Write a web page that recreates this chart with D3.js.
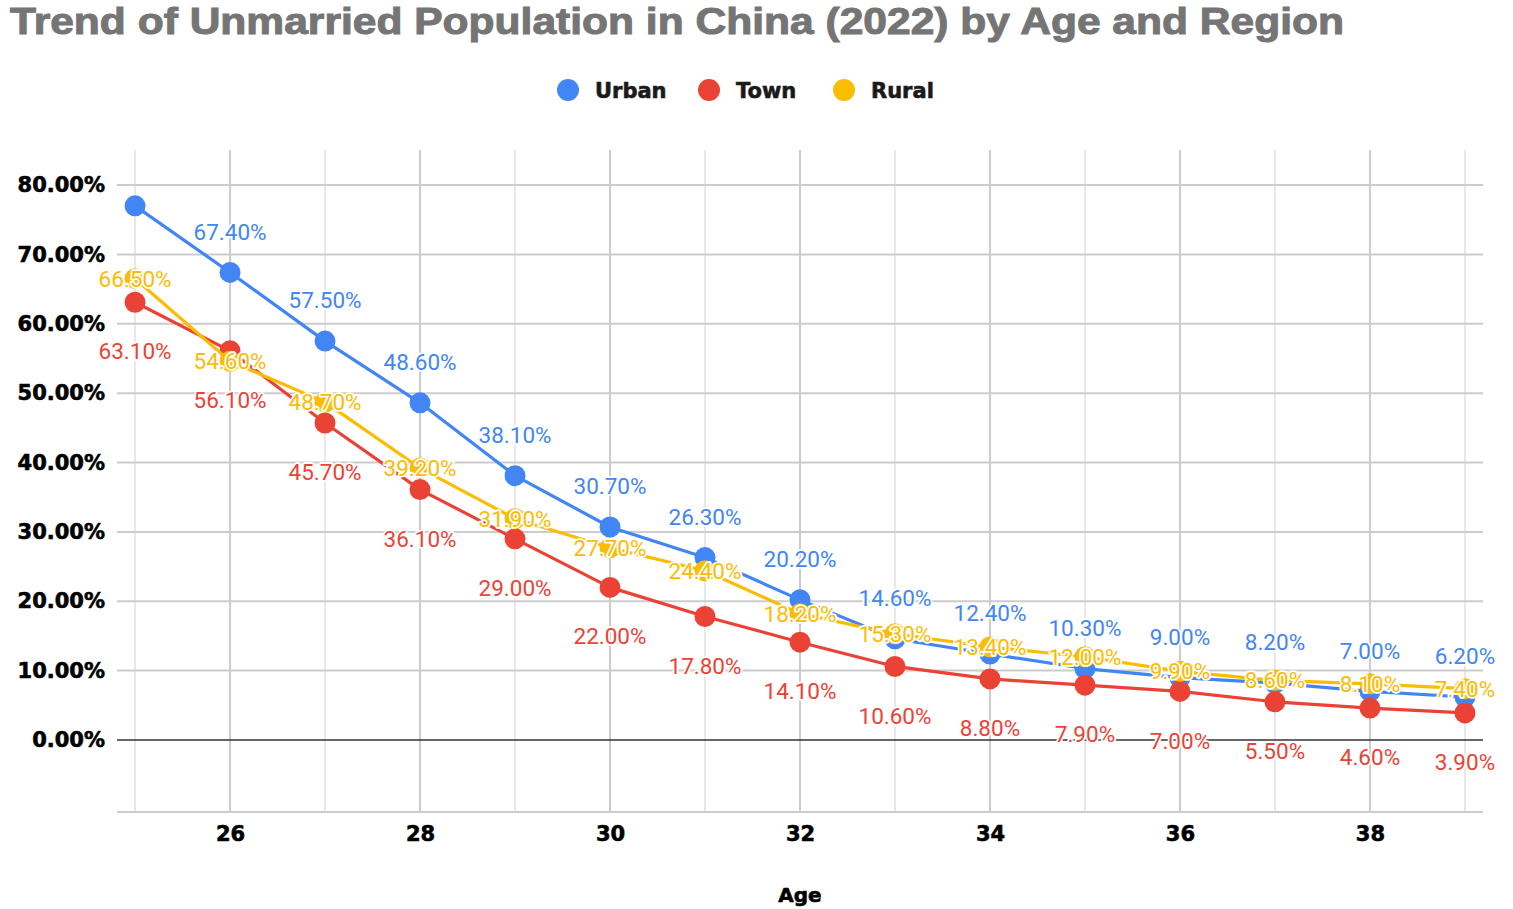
<!DOCTYPE html>
<html><head><meta charset="utf-8">
<script src="https://cdn.jsdelivr.net/npm/d3@7"></script>
<style>body{margin:0;background:#fff;} svg{display:block;}</style>
</head><body>
<svg id="chart" width="1513" height="909"></svg>
<script>
const ages = [25,26,27,28,29,30,31,32,33,34,35,36,37,38,39];
const urban = [77.0,67.4,57.5,48.6,38.1,30.7,26.3,20.2,14.6,12.4,10.3,9.0,8.2,7.0,6.2];
const town  = [63.1,56.1,45.7,36.1,29.0,22.0,17.8,14.1,10.6,8.8,7.9,7.0,5.5,4.6,3.9];
const rural = [66.5,54.6,48.7,39.2,31.9,27.7,24.4,18.2,15.3,13.4,12.0,9.9,8.6,8.1,7.4];
const yTicks = [0,10,20,30,40,50,60,70,80];
const xTicks = [26,28,30,32,34,36,38];
const seriesNames = ["Urban","Town","Rural"];
const colors = ["#4285F4","#EA4335","#FBBC04"];

const series = [
  {name:seriesNames[0], values:urban, color:colors[0], pos:"above", hideFirst:true},
  {name:seriesNames[1], values:town,  color:colors[1], pos:"below"},
  {name:seriesNames[2], values:rural, color:colors[2], pos:"center"}
];

const svg = d3.select("#chart");
const L=117, R=1483, T=150, B=812;
const x = d3.scaleLinear().domain([24.81,39.19]).range([L,R]);
const y = d3.scaleLinear().domain([-10.38,85.05]).range([B,T]);

// vertical grid
svg.append("g").selectAll("line").data(ages).join("line")
  .attr("x1",d=>x(d)).attr("x2",d=>x(d)).attr("y1",T).attr("y2",B)
  .attr("stroke",d=>d%2===0?"#cccccc":"#e8e8e8").attr("stroke-width",2);
// horizontal grid
svg.append("g").selectAll("line").data(yTicks.filter(d=>d!==0)).join("line")
  .attr("x1",L).attr("x2",R).attr("y1",d=>y(d)).attr("y2",d=>y(d))
  .attr("stroke","#cccccc").attr("stroke-width",2);
svg.append("line").attr("x1",L).attr("x2",R).attr("y1",B).attr("y2",B)
  .attr("stroke","#cccccc").attr("stroke-width",2);
svg.append("line").attr("x1",L).attr("x2",R).attr("y1",y(0)).attr("y2",y(0))
  .attr("stroke","#333333").attr("stroke-width",1.5);

// y axis labels
const yAxis = d3.axisLeft(y).tickValues(yTicks).tickSize(0).tickPadding(12)
  .tickFormat(d=>d.toFixed(2)+"%");
const yg = svg.append("g").attr("transform",`translate(${L},0)`).call(yAxis);
yg.select(".domain").remove();
yg.selectAll("text").attr("font-family","DejaVu Sans").attr("font-weight","bold")
  .attr("font-size",21).attr("fill","#000").attr("stroke","#000").attr("stroke-width",0.6);

// x axis labels
const xAxis = d3.axisBottom(x).tickValues(xTicks).tickSize(0).tickPadding(14)
  .tickFormat(d3.format("d"));
const xg = svg.append("g").attr("transform",`translate(0,${B})`).call(xAxis);
xg.select(".domain").remove();
xg.selectAll("text").attr("font-family","DejaVu Sans").attr("font-weight","bold")
  .attr("font-size",21).attr("fill","#000").attr("stroke","#000").attr("stroke-width",0.6);

// lines and points
const line = d3.line().x((d,i)=>x(ages[i])).y(d=>y(d));
series.forEach(s=>{
  svg.append("path").datum(s.values).attr("d",line).attr("fill","none")
    .attr("stroke",s.color).attr("stroke-width",3.2).attr("stroke-linejoin","round");
  svg.append("g").selectAll("circle").data(s.values).join("circle")
    .attr("cx",(d,i)=>x(ages[i])).attr("cy",d=>y(d)).attr("r",10.5).attr("fill",s.color);
});

// labels
series.forEach(s=>{
  svg.append("g").selectAll("text").data(s.values.map((v,i)=>({v,i})).filter(d=>!(s.hideFirst&&d.i===0)))
    .join("text")
    .attr("x",d=>x(ages[d.i]))
    .attr("y",d=>y(d.v)+(s.pos==="above"?-41:s.pos==="below"?49:0))
    .attr("dy","0.36em")
    .attr("text-anchor","middle")
    .attr("font-family","Roboto").attr("font-size",22.5)
    .attr("fill",s.color).attr("stroke","#fff").attr("stroke-width",3.5)
    .attr("paint-order","stroke").attr("stroke-linejoin","round")
    .text(d=>d.v.toFixed(2)+"%");
});

// title
svg.append("text").attr("x",10).attr("y",34)
  .attr("font-family","Liberation Sans").attr("font-weight","bold").attr("font-size",37)
  .attr("fill","#757575").attr("stroke","#757575").attr("stroke-width",1)
  .attr("textLength",1334).attr("lengthAdjust","spacingAndGlyphs")
  .text("Trend of Unmarried Population in China (2022) by Age and Region");

// legend
const legX = [568,709,844];
const lg = svg.append("g");
seriesNames.forEach((n,i)=>{
  lg.append("circle").attr("cx",legX[i]).attr("cy",90).attr("r",11).attr("fill",colors[i]);
  lg.append("text").attr("x",legX[i]+27).attr("y",90).attr("dy","0.36em")
    .attr("font-family","DejaVu Sans").attr("font-weight","bold").attr("font-size",21)
    .attr("fill","#1a1a1a").attr("stroke","#1a1a1a").attr("stroke-width",0.6).text(n);
});

// axis title
svg.append("text").attr("x",(L+R)/2).attr("y",895).attr("dy","0.36em").attr("text-anchor","middle")
  .attr("font-family","DejaVu Sans").attr("font-weight","bold").attr("font-size",20)
  .attr("fill","#000").attr("stroke","#000").attr("stroke-width",0.6).text("Age");
</script>
</body></html>
